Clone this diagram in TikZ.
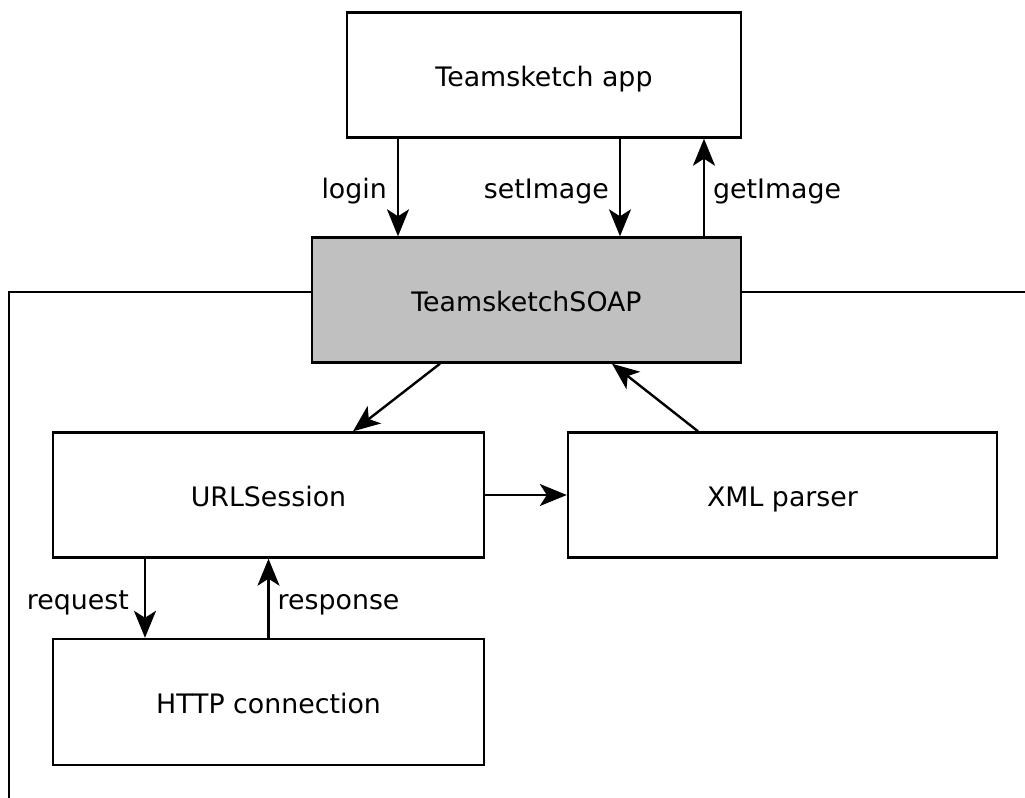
\documentclass[tikz,border=0pt]{standalone}
\usepackage{fontspec}
\setmainfont{DejaVu Sans}
\usetikzlibrary{arrows.meta, positioning, calc}
\definecolor{soapgray}{RGB}{192,192,192}
\tikzset{
  block/.style={draw, rectangle, line width=1.2pt, text centered, minimum height=62.5pt, text height=13pt, text depth=2pt, font=\fontsize{13.4}{15}\selectfont},
  flow/.style={-{Stealth[length=13.5pt, width=11pt, inset=3.5pt]}, line width=1.2pt},
  lbl/.style={font=\fontsize{13.4}{15}\selectfont, inner sep=3pt, text height=13pt, text depth=2pt}
}

\begin{document}
\begin{tikzpicture}[x=0.5pt, y=-0.5pt]
        		\useasboundingbox (0,0) rectangle (1025,798);

        		\node (App) at (544,75) [block, minimum width=197pt]{Teamsketch app};

        		\node (SOAP) at ($(App) + (-17.5,225)$) [block, fill=soapgray, minimum width=214.5pt]{TeamsketchSOAP};
        		\draw[flow] ($(App.south) + (-146,0)$) -- node[lbl, left=2pt] (LoginLbl) {login} ($(SOAP.north) + (-128.5,0)$);
        		\draw[flow] ($(App.south) + (76,0)$) -- node[lbl, left=2pt] (SetImageLbl) {setImage} ($(SOAP.north) + (93.5,0)$);
        		\draw[flow] ($(SOAP.north) + (177.5,0)$) -- node[lbl, right=1pt] (GetImageLbl) {getImage} ($(App.south) + (160,0)$);

        		\node (URLSession) at ($(SOAP) + (-258,195)$) [block, minimum width=215.5pt]{URLSession};
        		\draw[flow] ($(SOAP.south) + (-86.5,0)$) -- ($(URLSession.north) + (84.5,0)$);
        		\node (XMLParser) at ($(URLSession) + (514,0)$) [block, minimum width=214.5pt]{XML parser};
        		\draw[flow] (URLSession.east) -- (XMLParser.west);
        		\draw[flow] ($(XMLParser.north) + (-84.5,0)$) -- ($(SOAP.south) + (85.5,0)$);

        		\node (HTTP) at ($(URLSession) + (0,207)$) [block, minimum width=215.5pt, minimum height=63pt]{HTTP connection};
        		\draw[flow] ($(URLSession.south) + (-123.5,0)$) -- node[lbl, left=4.5pt] (RequestLbl) {request} ($(HTTP.north) + (-123.5,0)$);
        		\draw[flow] (HTTP.north) -- node[lbl, right=1pt] (ResponseLbl) {response} (URLSession.south);

        		% frame round the SOAP layer
        		\draw[line width=1.2pt] ($(SOAP.west) + (0,-8)$) -- ++(-302,0) -- ++(0,506);
        		\draw[line width=1.2pt] ($(SOAP.east) + (0,-8)$) -- ++(284,0);
		    \end{tikzpicture}
\end{document}
